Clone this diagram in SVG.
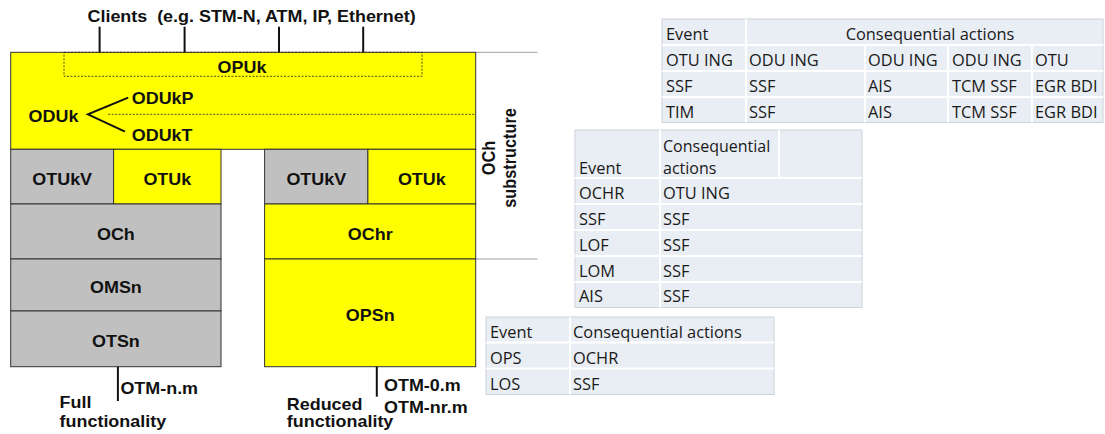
<svg xmlns="http://www.w3.org/2000/svg" width="1105" height="434" viewBox="0 0 1105 434">
<style>
.lb{font-family:"Liberation Sans",Arial,sans-serif;font-weight:bold;font-size:16.3px;fill:#111}
.c{text-anchor:middle}
.y{fill:#FFFF00;stroke:#333;stroke-width:1}
.g{fill:#C0C0C0;stroke:#333;stroke-width:1}
.tk{stroke:#111;stroke-width:2;fill:none}
.gl{stroke:#A0A0A0;stroke-width:1;fill:none}
.dash{stroke:#222;stroke-width:0.8;stroke-dasharray:2 1.5;fill:none}
.tb{fill:#E9EDF4;stroke:#CDD2D9;stroke-width:1}
.sep{stroke:#FFFFFF;stroke-width:2;fill:none}
.tt{font-family:"Open Sans","Liberation Sans",sans-serif;font-size:16.4px;fill:#1A1A1A}
</style>

<!-- guide lines -->
<line class="gl" x1="475.7" y1="52.3" x2="537.5" y2="52.3"/>
<line class="gl" x1="475.7" y1="259" x2="537.5" y2="259"/>

<g id="clients">
<text class="lb" transform="translate(87.5 21.7) scale(1.1 1)">Clients<tspan dx="9">(e.g. STM-N, ATM, IP, Ethernet)</tspan></text>
</g>

<g id="odu-block">
<rect class="y" x="10.7" y="52.3" width="465" height="97"/>
<rect class="dash" x="64" y="52.3" width="358" height="24"/>
<text class="lb c" transform="translate(242 72.7) scale(1.1 1)">OPUk</text>
<line class="dash" x1="108.2" y1="114.3" x2="475.7" y2="114.3"/>
<polyline points="128.2,97.7 87.9,114.3 125,131.7" fill="none" stroke="#111" stroke-width="2"/>
<text class="lb" transform="translate(28.6 121.7) scale(1.1 1)">ODUk</text>
<text class="lb" transform="translate(131.8 104) scale(1.1 1)">ODUkP</text>
<text class="lb" transform="translate(131.8 140.7) scale(1.1 1)">ODUkT</text>
</g>

<g id="och-substructure">
<text class="lb c" transform="translate(495 158) rotate(-90) scale(1 1.1)">OCh</text>
<text class="lb c" transform="translate(516 158) rotate(-90) scale(1 1.1)">substructure</text>
</g>

<g id="full-stack">
<rect class="g" x="10.7" y="149.3" width="102.9" height="54.7"/>
<text class="lb c" transform="translate(62.2 185) scale(1.1 1)">OTUkV</text>
<rect class="y" x="113.6" y="149.3" width="107.4" height="54.7"/>
<text class="lb c" transform="translate(167.3 185) scale(1.1 1)">OTUk</text>
<rect class="g" x="10.7" y="204" width="210.3" height="55"/>
<text class="lb c" transform="translate(115.9 240) scale(1.1 1)">OCh</text>
<rect class="g" x="10.7" y="259" width="210.3" height="52"/>
<text class="lb c" transform="translate(115.9 293) scale(1.1 1)">OMSn</text>
<rect class="g" x="10.7" y="311" width="210.3" height="55.7"/>
<text class="lb c" transform="translate(115.9 347) scale(1.1 1)">OTSn</text>
</g>

<g id="reduced-stack">
<rect class="g" x="264.6" y="149.3" width="103.3" height="54.7"/>
<text class="lb c" transform="translate(316.3 185) scale(1.1 1)">OTUkV</text>
<rect class="y" x="367.9" y="149.3" width="107.8" height="54.7"/>
<text class="lb c" transform="translate(421.8 185) scale(1.1 1)">OTUk</text>
<rect class="y" x="264.6" y="204" width="211.1" height="55"/>
<text class="lb c" transform="translate(370.2 240) scale(1.1 1)">OChr</text>
<rect class="y" x="264.6" y="259" width="211.1" height="107.7"/>
<text class="lb c" transform="translate(370.2 321) scale(1.1 1)">OPSn</text>
</g>

<g id="connectors">
<line class="tk" x1="99.6" y1="26.7" x2="99.6" y2="52.3"/>
<line class="tk" x1="184.6" y1="26.7" x2="184.6" y2="52.3"/>
<line class="tk" x1="279" y1="26.7" x2="279" y2="52.3"/>
<line class="tk" x1="363.2" y1="26.7" x2="363.2" y2="52.3"/>
<line class="tk" x1="117.9" y1="366.7" x2="117.9" y2="401"/>
<line class="tk" x1="376.8" y1="366.7" x2="376.8" y2="396.7"/>
</g>

<g id="otm-full">
<text class="lb" transform="translate(120.4 394.3) scale(1.1 1)">OTM-n.m</text>
<text class="lb" transform="translate(59.6 408.3) scale(1.1 1)">Full</text>
<text class="lb" transform="translate(59.6 426.7) scale(1.1 1)">functionality</text>
</g>

<g id="otm-reduced">
<text class="lb" transform="translate(384 391) scale(1.1 1)">OTM-0.m</text>
<text class="lb" transform="translate(384 413.3) scale(1.1 1)">OTM-nr.m</text>
<text class="lb" transform="translate(286.8 410) scale(1.1 1)">Reduced</text>
<text class="lb" transform="translate(286.8 427.3) scale(1.1 1)">functionality</text>
</g>

<g id="table-otu">
<rect class="tb" x="662" y="19" width="441" height="103.5"/>
<line class="sep" x1="662" y1="45" x2="1103" y2="45"/>
<line class="sep" x1="662" y1="71" x2="1103" y2="71"/>
<line class="sep" x1="662" y1="97" x2="1103" y2="97"/>
<line class="sep" x1="746" y1="19" x2="746" y2="122.5"/>
<line class="sep" x1="865" y1="45" x2="865" y2="122.5"/>
<line class="sep" x1="948" y1="45" x2="948" y2="122.5"/>
<line class="sep" x1="1032" y1="45" x2="1032" y2="122.5"/>
<text class="tt" x="666" y="40">Event</text>
<text class="tt" x="930" y="40" text-anchor="middle">Consequential actions</text>
<text class="tt" x="666" y="66">OTU ING</text>
<text class="tt" x="749" y="66">ODU ING</text>
<text class="tt" x="868" y="66">ODU ING</text>
<text class="tt" x="952" y="66">ODU ING</text>
<text class="tt" x="1035" y="66">OTU</text>
<text class="tt" x="666" y="92">SSF</text>
<text class="tt" x="749" y="92">SSF</text>
<text class="tt" x="868" y="92">AIS</text>
<text class="tt" x="952" y="92">TCM SSF</text>
<text class="tt" x="1035" y="92">EGR BDI</text>
<text class="tt" x="666" y="118">TIM</text>
<text class="tt" x="749" y="118">SSF</text>
<text class="tt" x="868" y="118">AIS</text>
<text class="tt" x="952" y="118">TCM SSF</text>
<text class="tt" x="1035" y="118">EGR BDI</text>
</g>

<g id="table-ochr">
<rect class="tb" x="575" y="130" width="287" height="177.5"/>
<line class="sep" x1="575" y1="178" x2="862" y2="178"/>
<line class="sep" x1="575" y1="204" x2="862" y2="204"/>
<line class="sep" x1="575" y1="230" x2="862" y2="230"/>
<line class="sep" x1="575" y1="256" x2="862" y2="256"/>
<line class="sep" x1="575" y1="282" x2="862" y2="282"/>
<line class="sep" x1="660" y1="130" x2="660" y2="307.5"/>
<line class="sep" x1="779" y1="130" x2="779" y2="178"/>
<text class="tt" x="579" y="173.5">Event</text>
<text class="tt" x="663" y="151.5" style="font-size:16px">Consequential</text>
<text class="tt" x="663" y="173.5" style="font-size:16px">actions</text>
<text class="tt" x="579" y="199">OCHR</text>
<text class="tt" x="663" y="199">OTU ING</text>
<text class="tt" x="579" y="225">SSF</text>
<text class="tt" x="663" y="225">SSF</text>
<text class="tt" x="579" y="251">LOF</text>
<text class="tt" x="663" y="251">SSF</text>
<text class="tt" x="579" y="277">LOM</text>
<text class="tt" x="663" y="277">SSF</text>
<text class="tt" x="579" y="302">AIS</text>
<text class="tt" x="663" y="302">SSF</text>
</g>

<g id="table-ops">
<rect class="tb" x="486" y="317" width="288" height="77.5"/>
<line class="sep" x1="486" y1="342.5" x2="774" y2="342.5"/>
<line class="sep" x1="486" y1="368.5" x2="774" y2="368.5"/>
<line class="sep" x1="570" y1="317" x2="570" y2="394.5"/>
<text class="tt" x="490" y="338">Event</text>
<text class="tt" x="573" y="338">Consequential actions</text>
<text class="tt" x="490" y="363.5">OPS</text>
<text class="tt" x="573" y="363.5">OCHR</text>
<text class="tt" x="490" y="389.5">LOS</text>
<text class="tt" x="573" y="389.5">SSF</text>
</g>
</svg>
